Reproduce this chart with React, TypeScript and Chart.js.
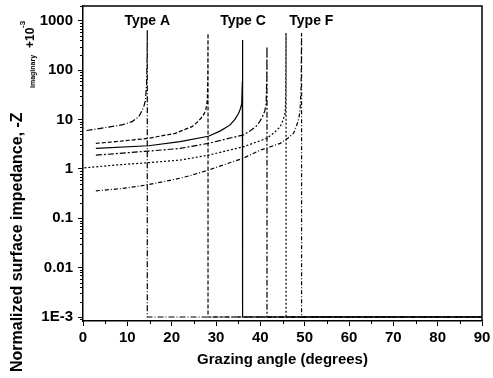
import React, { useEffect, useRef } from 'react';
import Chart from 'chart.js/auto';

// Grazing angle (degrees) and normalized surface impedance for each curve
const angleA = [0.8, 4.3, 8.8, 11.1, 12.6, 13.4, 13.8, 14.1, 14.35, 14.45, 14.5, 14.5, 90];
const impA = [6.0, 6.7, 7.8, 9.1, 11.5, 15.7, 19.5, 25, 55, 160, 650, 0.001, 0.001];

const angleB = [2.9, 7.3, 14.8, 20.8, 24.6, 26.0, 26.9, 27.35, 27.7, 28.05, 28.15, 28.2, 28.2, 90];
const impB = [3.3, 3.56, 4.17, 5.27, 7.2, 9.2, 11.5, 13.2, 15.7, 25, 80, 560, 0.001, 0.001];

const angleC = [2.9, 14.8, 21.9, 28.3, 31.0, 33.2, 34.3, 35.1, 35.5, 35.8, 35.95, 36.0, 36.0, 90];
const impC = [2.6, 2.95, 3.56, 4.6, 5.9, 7.8, 10.2, 13.4, 16.5, 21, 60, 410, 0.001, 0.001];

const angleD = [2.9, 14.8, 21.9, 28.3, 36.2, 37.8, 39.0, 39.9, 40.5, 41.0, 41.3, 41.45, 41.5, 41.5, 90];
const impD = [1.9, 2.3, 2.6, 3.3, 4.9, 6.0, 7.2, 9.2, 11.5, 15, 20, 63, 300, 0.001, 0.001];

const angleE = [0.3, 7.3, 14.8, 21.9, 28.3, 36.1, 41.5, 43.2, 44.5, 45.1, 45.6, 45.7, 45.75, 45.8, 45.8, 90];
const impE = [1.05, 1.2, 1.34, 1.51, 1.9, 2.8, 4.17, 5.5, 7.2, 9.6, 13.4, 22, 40, 570, 0.001, 0.001];

const angleF = [2.9, 8.8, 14.1, 19.3, 21.9, 24.6, 28.3, 36.1, 40.0, 44.5, 46.2, 47.5, 48.1, 48.6, 48.85, 49.0, 49.2, 49.3, 49.3, 90];
const impF = [0.36, 0.4, 0.47, 0.58, 0.65, 0.75, 0.95, 1.64, 2.4, 3.3, 4.2, 5.3, 7.2, 9.8, 13, 18, 47, 570, 0.001, 0.001];

const xTickValues = [0, 10, 20, 30, 40, 50, 60, 70, 80, 90];
const yTickValues = [0.001, 0.01, 0.1, 1, 10, 100, 1000];
const yTickLabels = ['1E-3', '0.01', '0.1', '1', '10', '100', '1000'];

const typeLabels = ['Type A', 'Type C', 'Type F'];
const typeLabelAngles = [14.5, 36.1, 51.5];
const typeLabelLevel = 1000;

const xTitle = 'Grazing angle (degrees)';
const yTitleMain = 'Normalized surface impedance, -Z';
const yTitleSub = 'imaginary';
const yTitlePlus = '+10';
const yTitleSup = '-3';

const FONT = '"Liberation Sans", Arial, Helvetica, sans-serif';

const seriesList = [
  { xs: angleA, ys: impA, dash: [6, 2, 1, 2] },
  { xs: angleB, ys: impB, dash: [4, 2] },
  { xs: angleC, ys: impC, dash: [] },
  { xs: angleD, ys: impD, dash: [6, 2, 2, 2] },
  { xs: angleE, ys: impE, dash: [2, 2] },
  { xs: angleF, ys: impF, dash: [4, 2, 1, 2] },
];

const decorPlugin = {
  id: 'decor',
  afterDraw(chart: any) {
    const { ctx, chartArea, scales } = chart;
    const { left, right, top, bottom } = chartArea;
    const x = scales.x;
    const y = scales.y;
    ctx.save();
    ctx.strokeStyle = '#000';
    ctx.lineWidth = 1.5;
    ctx.beginPath();
    ctx.moveTo(left, top);
    ctx.lineTo(right, top);
    ctx.lineTo(right, bottom);
    ctx.stroke();

    // minor ticks
    ctx.lineWidth = 1;
    ctx.beginPath();
    for (let v = 5; v < 90; v += 10) {
      const px = Math.round(x.getPixelForValue(v)) + 0.5;
      ctx.moveTo(px, bottom);
      ctx.lineTo(px, bottom + 3);
    }
    for (let d = -4; d <= 3; d++) {
      for (let k = 2; k <= 9; k++) {
        const v = k * Math.pow(10, d);
        if (v < y.min || v > y.max) continue;
        const py = Math.round(y.getPixelForValue(v)) + 0.5;
        ctx.moveTo(left - 3, py);
        ctx.lineTo(left, py);
      }
    }
    ctx.stroke();

    ctx.fillStyle = '#000';
    ctx.textBaseline = 'middle';
    ctx.textAlign = 'center';
    ctx.font = 'bold 14px ' + FONT;
    typeLabels.forEach((t, i) => {
      ctx.fillText(t, x.getPixelForValue(typeLabelAngles[i]), y.getPixelForValue(typeLabelLevel));
    });

    ctx.font = 'bold 15px ' + FONT;
    ctx.fillText(xTitle, (left + right) / 2, 360);

    ctx.translate(18, 372);
    ctx.rotate(-Math.PI / 2);
    ctx.textAlign = 'left';
    ctx.font = 'bold 16px ' + FONT;
    ctx.fillText(yTitleMain, 0, 0);
    ctx.font = 'bold 7px ' + FONT;
    ctx.fillText(yTitleSub, 284, 15);
    ctx.font = 'bold 12px ' + FONT;
    ctx.fillText(yTitlePlus, 324, 13);
    ctx.font = 'bold 8px ' + FONT;
    ctx.fillText(yTitleSup, 344, 5);
    ctx.restore();
  },
};

export default function App() {
  const ref = useRef<HTMLCanvasElement | null>(null);
  useEffect(() => {
    if (!ref.current) return;
    const chart = new Chart(ref.current, {
      type: 'line',
      data: {
        datasets: seriesList.map((s) => ({
          data: s.xs.map((v, i) => ({ x: v, y: s.ys[i] })),
          borderColor: '#000',
          borderWidth: 1.2,
          borderDash: s.dash,
          pointRadius: 0,
          fill: false,
          tension: 0,
        })),
      },
      options: {
        responsive: false,
        animation: false,
        layout: { padding: { top: 6, right: 11, left: 0, bottom: 0 } },
        plugins: { legend: { display: false }, tooltip: { enabled: false } },
        scales: {
          x: {
            type: 'linear',
            min: 0,
            max: 90,
            afterBuildTicks: (s: any) => {
              s.ticks = xTickValues.map((v) => ({ value: v }));
            },
            afterFit: (s: any) => {
              s.height = 57;
              s.paddingLeft = 0;
              s.paddingRight = 0;
            },
            ticks: {
              color: '#000',
              padding: 3,
              autoSkip: false,
              maxRotation: 0,
              font: { family: FONT, size: 15, weight: 'bold' },
            },
            grid: { display: true, drawOnChartArea: false, drawTicks: true, tickLength: 5, color: '#000', lineWidth: 1 },
            border: { display: true, color: '#000', width: 1.5 },
          },
          y: {
            type: 'logarithmic',
            min: 0.00083,
            max: 2000,
            afterBuildTicks: (s: any) => {
              s.ticks = yTickValues.map((v) => ({ value: v }));
            },
            afterFit: (s: any) => {
              s.width = 83;
              s.paddingTop = 0;
              s.paddingBottom = 0;
            },
            ticks: {
              color: '#000',
              padding: 5,
              autoSkip: false,
              font: { family: FONT, size: 15, weight: 'bold' },
              callback: (v: any) => {
                const i = yTickValues.findIndex((t) => Math.abs(Math.log10(t) - Math.log10(Number(v))) < 1e-6);
                return i >= 0 ? yTickLabels[i] : '';
              },
            },
            grid: { display: true, drawOnChartArea: false, drawTicks: true, tickLength: 5, color: '#000', lineWidth: 1 },
            border: { display: true, color: '#000', width: 1.5 },
          },
        },
      } as any,
      plugins: [decorPlugin],
    });
    return () => chart.destroy();
  }, []);
  return (
    <div style={{ position: 'absolute', left: 0, top: 0, width: 493, height: 378, background: '#fff' }}>
      <canvas ref={ref} width={493} height={378} style={{ display: 'block' }} />
    </div>
  );
}
